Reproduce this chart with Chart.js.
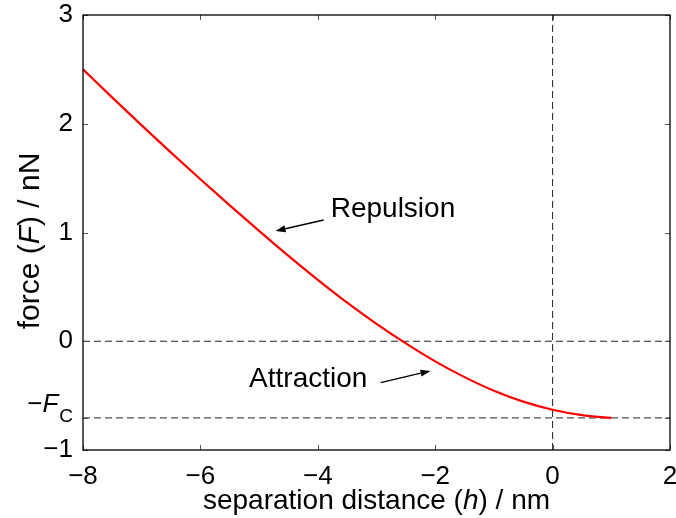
<!DOCTYPE html>
<html>
<head>
<meta charset="utf-8">
<script src="https://cdn.jsdelivr.net/npm/chart.js@4.4.1/dist/chart.umd.min.js"></script>
<style>
  html, body { margin: 0; padding: 0; background: #fff; }
  canvas { display: block; }
</style>
</head>
<body>
<canvas id="forceChart" width="676" height="518"></canvas>
<script>
// Valores: separacion (nm) y fuerza (nN)
const separacion = [-8, -7.5, -7, -6.5, -6, -5.5, -5, -4.5, -4, -3.5, -3, -2.5, -2, -1.5, -1, -0.5, 0, 0.5, 1];
const fuerza = [2.50, 2.24, 1.985, 1.735, 1.49, 1.25, 1.015, 0.785, 0.565, 0.355, 0.16, -0.02, -0.185, -0.33, -0.455, -0.555, -0.63, -0.68, -0.705];
const fuerzaAdhesion = -0.705; // -F_C
const xTicks = [-8, -6, -4, -2, 0, 2];
const yTicks = [-1, fuerzaAdhesion, 0, 1, 2, 3];

// Etiquetas con flecha (en unidades de datos)
const anotaciones = [
  { texto: 'Repulsion', x: -3.78, y: 1.14, desde: [-3.90, 1.115], hasta: [-4.72, 1.014] },
  { texto: 'Attraction', x: -5.17, y: -0.423, desde: [-2.93, -0.38], hasta: [-2.08, -0.273] },
];

// Titulos de ejes: [texto, cursiva]
const tituloX = [['separation distance (', false], ['h', true], [') / nm', false]];
const tituloY = [['force (', false], ['F', true], [') / nN', false]];

const FONT = "'Liberation Sans', Arial, Helvetica, sans-serif";

const fmt = (v) => (v < 0 ? '\u2212' + Math.abs(v) : String(v));

// Dibuja un texto con partes en cursiva, centrado en (0, 0) sobre la linea base
function textoMixto(ctx, partes, size) {
  const fuente = (it) => `${it ? 'italic ' : ''}${size}px ${FONT}`;
  let total = 0;
  for (const [t, it] of partes) {
    ctx.font = fuente(it);
    total += ctx.measureText(t).width;
  }
  let cx = -total / 2;
  ctx.textAlign = 'left';
  ctx.textBaseline = 'alphabetic';
  for (const [t, it] of partes) {
    ctx.font = fuente(it);
    ctx.fillText(t, cx, 0);
    cx += ctx.measureText(t).width;
  }
}

/**
 * Marco, marcas interiores, etiqueta -F_C, titulos y anotaciones
 */
const marcoPlugin = {
  id: 'marco',
  afterDatasetsDraw(chart) {
    const { ctx, chartArea: a, scales: { x, y } } = chart;
    ctx.save();

    // marcas hacia dentro en los cuatro lados
    ctx.strokeStyle = '#555';
    ctx.lineWidth = 1;
    ctx.beginPath();
    for (const v of xTicks) {
      const px = Math.round(x.getPixelForValue(v)) + 0.5;
      ctx.moveTo(px, a.bottom); ctx.lineTo(px, a.bottom - 5);
      ctx.moveTo(px, a.top); ctx.lineTo(px, a.top + 5);
    }
    for (const v of yTicks) {
      const py = Math.round(y.getPixelForValue(v)) + 0.5;
      ctx.moveTo(a.left, py); ctx.lineTo(a.left + 5, py);
      ctx.moveTo(a.right, py); ctx.lineTo(a.right - 5, py);
    }
    ctx.stroke();

    // marco
    ctx.strokeStyle = '#000';
    ctx.lineWidth = 1.3;
    ctx.strokeRect(a.left, a.top, a.right - a.left, a.bottom - a.top);

    // etiqueta -F_C
    const pyF = y.getPixelForValue(fuerzaAdhesion);
    const right = a.left - 10;
    ctx.fillStyle = '#000';
    ctx.textAlign = 'right';
    ctx.textBaseline = 'alphabetic';
    ctx.font = `19px ${FONT}`;
    ctx.fillText('C', right, pyF + 4);
    const wC = ctx.measureText('C').width;
    ctx.font = `italic 26px ${FONT}`;
    ctx.fillText('F', right - wC - 1, pyF - 6);
    const wF = ctx.measureText('F').width;
    ctx.font = `26px ${FONT}`;
    ctx.fillText('\u2212', right - wC - wF - 1, pyF - 6);

    // titulos
    ctx.save();
    ctx.translate((a.left + a.right) / 2, 509);
    textoMixto(ctx, tituloX, 28);
    ctx.restore();
    ctx.save();
    ctx.translate(39, 241);
    ctx.rotate(-Math.PI / 2);
    textoMixto(ctx, tituloY, 30);
    ctx.restore();

    // anotaciones
    ctx.font = `28px ${FONT}`;
    ctx.textAlign = 'left';
    ctx.textBaseline = 'alphabetic';
    ctx.lineWidth = 1.3;
    ctx.strokeStyle = '#000';
    for (const an of anotaciones) {
      ctx.fillText(an.texto, x.getPixelForValue(an.x), y.getPixelForValue(an.y));
      const x0 = x.getPixelForValue(an.desde[0]);
      const y0 = y.getPixelForValue(an.desde[1]);
      const x1 = x.getPixelForValue(an.hasta[0]);
      const y1 = y.getPixelForValue(an.hasta[1]);
      const ang = Math.atan2(y1 - y0, x1 - x0);
      const len = 10, half = 3.5;
      const bx = x1 - len * Math.cos(ang);
      const by = y1 - len * Math.sin(ang);
      ctx.beginPath();
      ctx.moveTo(x0, y0);
      ctx.lineTo(bx, by);
      ctx.stroke();
      ctx.beginPath();
      ctx.moveTo(x1, y1);
      ctx.lineTo(bx + half * Math.sin(ang), by - half * Math.cos(ang));
      ctx.lineTo(bx - half * Math.sin(ang), by + half * Math.cos(ang));
      ctx.closePath();
      ctx.fill();
    }
    ctx.restore();
  },
};

const dashed = {
  borderColor: '#222',
  borderWidth: 1,
  borderDash: [7, 4],
  pointRadius: 0,
  fill: false,
  order: 1,
};

new Chart(document.getElementById('forceChart').getContext('2d'), {
  type: 'line',
  data: {
    datasets: [
      { ...dashed, data: [{ x: -8, y: 0 }, { x: 2, y: 0 }] },
      { ...dashed, data: [{ x: -8, y: fuerzaAdhesion }, { x: 2, y: fuerzaAdhesion }] },
      { ...dashed, data: [{ x: 0, y: -1 }, { x: 0, y: 3 }] },
      {
        data: separacion.map((s, i) => ({ x: s, y: fuerza[i] })),
        borderColor: '#ff0000',
        borderWidth: 2.2,
        pointRadius: 0,
        cubicInterpolationMode: 'monotone',
        fill: false,
        order: 0,
      },
    ],
  },
  options: {
    responsive: false,
    animation: false,
    devicePixelRatio: 1,
    layout: { padding: { top: 15, right: 6, left: 0, bottom: 0 } },
    plugins: { legend: { display: false }, tooltip: { enabled: false } },
    scales: {
      x: {
        type: 'linear',
        min: -8,
        max: 2,
        grid: { display: false, drawTicks: false },
        border: { display: false },
        ticks: {
          stepSize: 2,
          color: '#000',
          padding: 11,
          maxRotation: 0,
          font: { family: FONT, size: 26 },
          callback: (v) => fmt(v),
        },
        afterFit: (scale) => {
          scale.height = 68;
          scale.paddingLeft = 0;
          scale.paddingRight = 0;
        },
      },
      y: {
        type: 'linear',
        min: -1,
        max: 3,
        grid: { display: false, drawTicks: false },
        border: { display: false },
        afterBuildTicks: (scale) => { scale.ticks = yTicks.map((v) => ({ value: v })); },
        ticks: {
          color: '#000',
          padding: 10,
          font: { family: FONT, size: 26 },
          callback: (v) => (v === fuerzaAdhesion ? '' : fmt(v)),
        },
        afterFit: (scale) => {
          scale.width = 83;
          scale.paddingTop = 0;
          scale.paddingBottom = 0;
        },
      },
    },
  },
  plugins: [marcoPlugin],
});
</script>
</body>
</html>
